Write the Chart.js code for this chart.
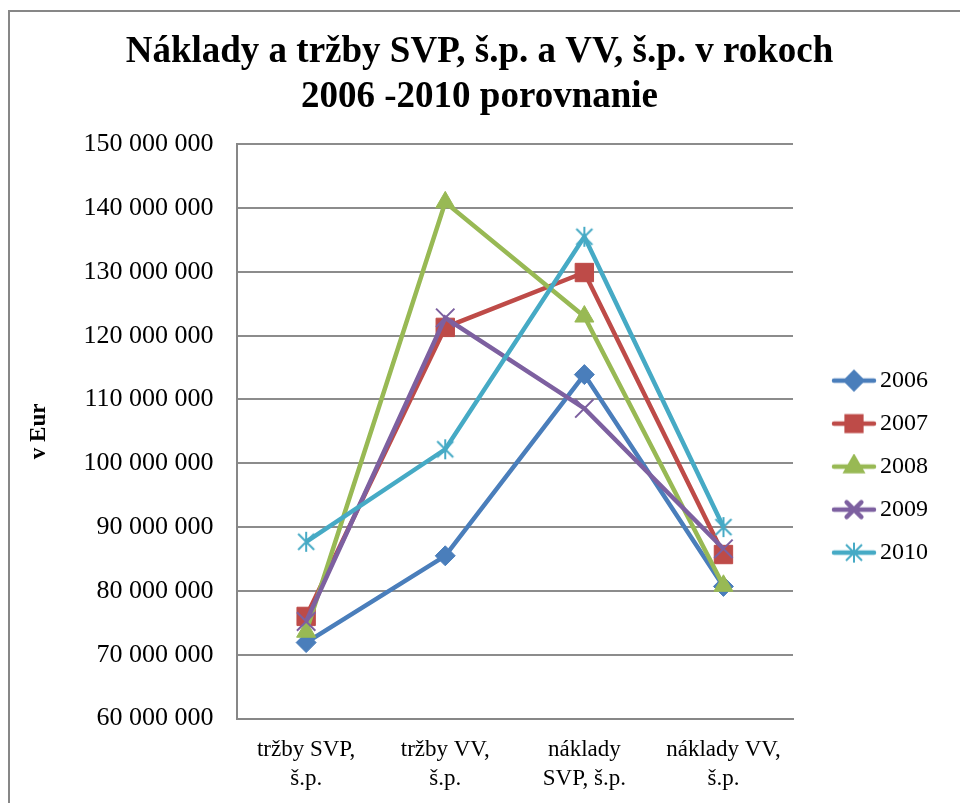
<!DOCTYPE html>
<html>
<head>
<meta charset="utf-8">
<script src="https://cdn.jsdelivr.net/npm/chart.js@4/dist/chart.umd.min.js"></script>
<style>
  html, body { margin: 0; padding: 0; background: #fff; overflow: hidden; }
  #frame {
    position: absolute; left: 8px; top: 10px; width: 1000px; height: 900px;
    border-top: 2px solid #878787; border-left: 2px solid #878787;
  }
  #wrap { position: absolute; left: 0; top: 0; width: 960px; height: 803px; }
</style>
</head>
<body>
<div id="frame"></div>
<div id="wrap"><canvas id="chart"></canvas></div>
<script>
const titleLines = ['Náklady a tržby SVP, š.p. a VV, š.p. v rokoch', '2006 -2010 porovnanie'];
const categories = [['tržby SVP,', 'š.p.'], ['tržby VV,', 'š.p.'], ['náklady', 'SVP, š.p.'], ['náklady VV,', 'š.p.']];
const years = ['2006', '2007', '2008', '2009', '2010'];

const values2006 = [71900000, 85500000, 113900000, 80700000];
const values2007 = [76000000, 121300000, 129900000, 85700000];
const values2008 = [73600000, 140900000, 123000000, 80800000];
const values2009 = [75200000, 122800000, 108600000, 86600000];
const values2010 = [87700000, 102200000, 135500000, 90000000];

const yMin = 60000000;
const yMax = 150000000;
const yStep = 10000000;

const colors = ['#4a7ebb', '#be4b48', '#98b954', '#7d60a0', '#46aac5'];
const markers = ['rectRot', 'rect', 'triangle', 'crossRot', 'star'];
const markerSizes = [10, 13, 11, 13, 11];
const allValues = [values2006, values2007, values2008, values2009, values2010];

const serif = "'Liberation Serif', 'Times New Roman', serif";

// excel style asterisk: an X with a vertical bar
function starMarker(color) {
    const c = document.createElement('canvas');
    c.width = 24; c.height = 24;
    const g = c.getContext('2d');
    g.strokeStyle = color;
    g.lineWidth = 2;
    g.beginPath();
    g.moveTo(4, 4); g.lineTo(20, 20);
    g.moveTo(20, 4); g.lineTo(4, 20);
    g.moveTo(12, 2); g.lineTo(12, 22);
    g.stroke();
    return c;
}

function drawMarker(g, i, x, y) {
    const col = colors[i];
    g.fillStyle = col;
    g.strokeStyle = col;
    if (markers[i] == 'star') {
        g.drawImage(starMarker(col), x - 12, y - 12);
        return;
    }
    Chart.helpers.drawPoint(g, {
        pointStyle: markers[i], radius: markerSizes[i] * 0.8, borderWidth: markers[i] == 'crossRot' ? 1.5 : 1
    }, x, y);
    if (markers[i] != 'crossRot') g.fill();
}

// legend swatch: line with marker, drawn in the right part of a wider box
function legendSwatch(i) {
    const c = document.createElement('canvas');
    c.width = 84; c.height = 26;
    const g = c.getContext('2d');
    g.strokeStyle = colors[i];
    g.lineWidth = 4.5;
    g.lineCap = 'round';
    g.beginPath();
    g.moveTo(36, 13); g.lineTo(76, 13);
    g.stroke();
    drawMarker(g, i, 56, 13);
    return c;
}

const datasets = years.map((year, i) => ({
    label: year,
    data: allValues[i],
    borderColor: colors[i],
    backgroundColor: colors[i],
    borderWidth: 4.5,
    tension: 0,
    fill: false,
    pointStyle: markers[i] == 'star' ? starMarker(colors[i]) : markers[i],
    pointRadius: markerSizes[i],
    pointHoverRadius: markerSizes[i],
    pointBorderWidth: markers[i] == 'crossRot' ? 2 : 1,
    order: years.length - i
}));

new Chart(document.getElementById('chart'), {
    type: 'line',
    data: { labels: categories, datasets: datasets },
    options: {
        responsive: true,
        maintainAspectRatio: false,
        animation: false,
        layout: { padding: { left: 21, right: 22, top: 0, bottom: -7 } },
        plugins: {
            tooltip: { enabled: false },
            title: {
                display: true,
                text: titleLines,
                color: '#000',
                font: { family: serif, size: 37, weight: 'bold', lineHeight: 1.22 },
                padding: { top: 30, bottom: 24 }
            },
            legend: {
                position: 'right',
                title: { display: true, text: ' ', color: '#000', font: { size: 1 }, padding: { top: 122, bottom: 0 } },
                labels: {
                    color: '#000',
                    font: { family: serif, size: 24 },
                    usePointStyle: true,
                    pointStyleWidth: 56,
                    boxHeight: 24,
                    padding: 19,
                    generateLabels: chart => years.map((year, i) => ({
                        text: year,
                        fontColor: '#000',
                        fillStyle: colors[i],
                        strokeStyle: colors[i],
                        lineWidth: 0,
                        pointStyle: legendSwatch(i),
                        datasetIndex: i,
                        hidden: false
                    }))
                }
            }
        },
        scales: {
            x: {
                offset: true,
                grid: { display: false, drawTicks: false },
                border: { color: '#878787', width: 2 },
                ticks: { color: '#000', font: { family: serif, size: 23, lineHeight: 1.25 }, padding: 17, maxRotation: 0 }
            },
            y: {
                min: yMin,
                max: yMax,
                grid: { color: '#8c8c8c', lineWidth: 2, drawTicks: false },
                border: { color: '#878787', width: 2 },
                ticks: {
                    stepSize: yStep,
                    color: '#000',
                    font: { family: serif, size: 26 },
                    padding: 23,
                    callback: v => String(v).replace(/\B(?=(\d{3})+(?!\d))/g, ' ')
                },
                title: {
                    display: true,
                    text: 'v Eur',
                    color: '#000',
                    font: { family: serif, size: 23, weight: 'bold' },
                    padding: { bottom: 8 }
                }
            }
        }
    }
});
</script>
</body>
</html>
